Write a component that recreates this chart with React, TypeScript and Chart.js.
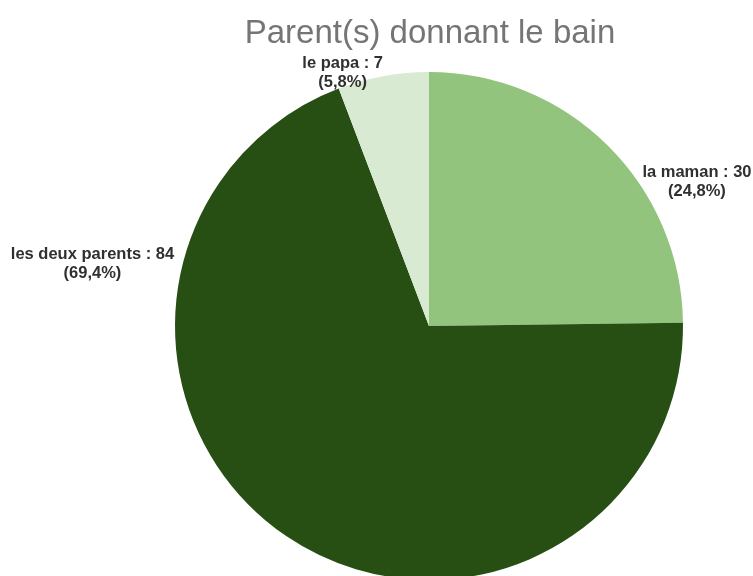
import React, { useEffect, useRef } from "react";
import { Chart, registerables } from "chart.js";

Chart.register(...registerables);

const TITLE = "Parent(s) donnant le bain";
const categories = ["la maman", "les deux parents", "le papa"];
const values = [30, 84, 7];
const percentLabels = ["24,8%", "69,4%", "5,8%"];
const colors = ["#93c47d", "#274e13", "#d9ead3"];
// label anchor offsets relative to pie center, in units of radius
const labelOffsets = [
  [1.055, -0.57],
  [-1.325, -0.245],
  [-0.34, -1.0],
];

const labelPlugin = {
  id: "customLabels",
  afterDraw(chart: any) {
    const ctx = chart.ctx;
    const meta = chart.getDatasetMeta(0);
    const arc0 = meta.data[0] as any;
    const cx = arc0.x;
    const cy = arc0.y;
    const r = arc0.outerRadius;
    ctx.save();
    ctx.fillStyle = "#757575";
    ctx.font = "33px 'Liberation Sans', Arial, sans-serif";
    ctx.textAlign = "center";
    ctx.textBaseline = "alphabetic";
    ctx.fillText(TITLE, 430, 43);

    ctx.fillStyle = "#303030";
    ctx.font = "bold 16.5px 'Liberation Sans', Arial, sans-serif";
    ctx.textBaseline = "middle";
    categories.forEach((c, i) => {
      const x = cx + r * labelOffsets[i][0];
      const y = cy + r * labelOffsets[i][1];
      ctx.fillText(`${c} : ${values[i]}`, x, y - 9);
      ctx.fillText(`(${percentLabels[i]})`, x, y + 10);
    });
    ctx.restore();
  },
};

export default function App() {
  const ref = useRef<HTMLCanvasElement>(null);
  useEffect(() => {
    if (!ref.current) return;
    const chart = new Chart(ref.current, {
      type: "pie",
      data: {
        labels: categories,
        datasets: [
          {
            data: values,
            backgroundColor: colors,
            borderWidth: 0,
          },
        ],
      },
      options: {
        responsive: false,
        animation: false,
        layout: { padding: { left: 175, right: 70, top: 72, bottom: 40 } },
        plugins: {
          legend: { display: false },
          title: { display: false },
          tooltip: { enabled: false },
        },
      },
      plugins: [labelPlugin],
    });
    return () => chart.destroy();
  }, []);
  return (
    <div
      style={{
        position: "fixed",
        left: 0,
        top: 0,
        width: 753,
        height: 576,
        overflow: "hidden",
        background: "#fff",
      }}
    >
      <canvas ref={ref} width={753} height={620} style={{ width: 753, height: 620, display: "block" }} />
    </div>
  );
}
